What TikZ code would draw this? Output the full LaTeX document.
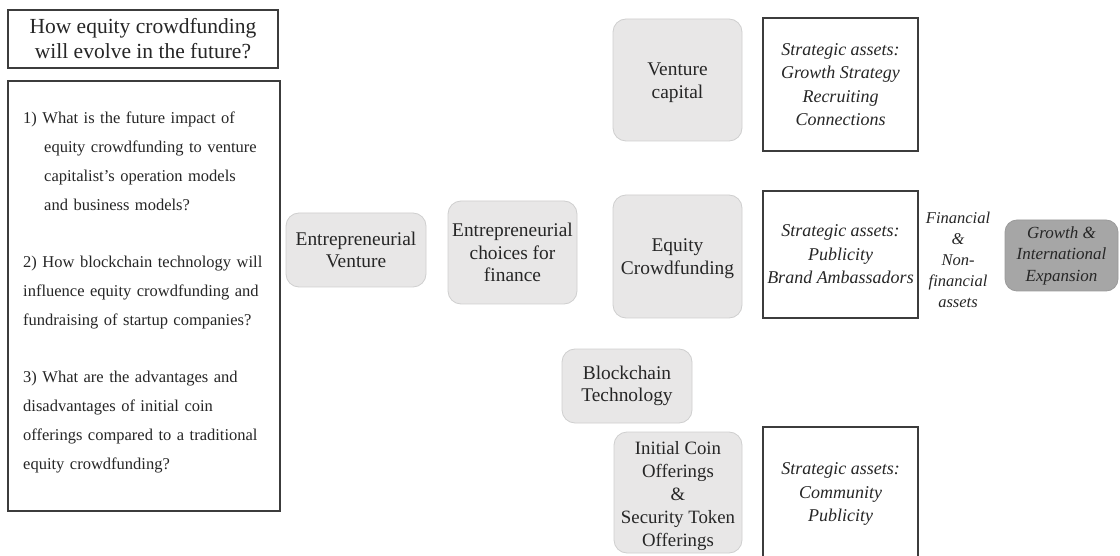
\documentclass[tikz,border=0pt]{standalone}
\usepackage{fontspec}
\setmainfont{Liberation Serif}
\definecolor{ink}{HTML}{262626}
\definecolor{boxfill}{HTML}{E8E7E7}
\definecolor{boxedge}{HTML}{CFCFCF}
\definecolor{frameedge}{HTML}{3C3C3C}
\definecolor{goalfill}{HTML}{A6A6A6}
\definecolor{goaledge}{HTML}{9A9A9A}
\begin{document}
\begin{tikzpicture}[x=1pt,y=-1pt,
  softbox/.style={draw=boxedge, fill=boxfill, rounded corners=13pt, line width=0.8pt,
    align=center, text=ink, inner sep=1pt, font=\fontsize{19.4}{22.6}\selectfont},
  softtext/.style={align=center, text=ink, inner sep=0pt, font=\fontsize{19.4}{22.6}\selectfont},
  framebox/.style={draw=frameedge, line width=1.4pt, align=center, text=ink, inner sep=2pt},
  assets/.style={framebox, font=\itshape\fontsize{18}{23.5}\selectfont},
  goalbox/.style={draw=goaledge, fill=goalfill, rounded corners=12pt, line width=0.8pt,
    align=center, text=ink, inner sep=2pt, font=\itshape\fontsize{17}{21.5}\selectfont}]
\useasboundingbox (0,0) rectangle (1120,556);
\fill[white] (0,0) rectangle (1120,556);

% research question panel
\node[framebox, minimum width=270pt, minimum height=58pt,
      font=\fontsize{21.5}{25}\selectfont] (title) at (143,39)
  {How equity crowdfunding\\will evolve in the future?};
\node[framebox, minimum width=272pt, minimum height=430pt] (qframe) at (144,296) {};
\node[anchor=north west, inner sep=0pt, text width=240pt, align=left, text=ink,
      font=\fontsize{16.5}{29}\selectfont] (questions) at (23,112) {%
  \makebox[240pt][s]{1) What is the future impact of}\\
  \hspace*{21pt}\makebox[219pt][s]{equity crowdfunding to venture}\\
  \hspace*{21pt}\makebox[219pt][s]{capitalist’s operation models}\\
  \hspace*{21pt}and business models?\\[28pt]
  \makebox[240pt][s]{2) How blockchain technology will}\\
  \makebox[240pt][s]{influence equity crowdfunding and}\\
  fundraising of startup companies?\\[28pt]
  \makebox[240pt][s]{3) What are the advantages and}\\
  \makebox[240pt][s]{disadvantages of initial coin}\\
  \makebox[240pt][s]{offerings compared to a traditional}\\
  equity crowdfunding?};

% financing routes
\node[softbox, minimum width=140pt, minimum height=74pt] (venture) at (356,250)
  {Entrepreneurial\\Venture};
\node[softbox, minimum width=129pt, minimum height=103pt] (choices) at (512.5,252.5)
  {Entrepreneurial\\choices for\\finance};
\node[softbox, minimum width=129pt, minimum height=122pt] (vc) at (677.5,80) {};
\node[softtext] (vclabel) at ([yshift=-3pt]vc.center) {Venture\\capital};
\node[softbox, minimum width=129pt, minimum height=123pt] (ecf) at (677.5,256.5) {};
\node[softtext] (ecflabel) at ([yshift=-2pt]ecf.center) {Equity\\Crowdfunding};
\node[softbox, minimum width=130pt, minimum height=74pt] (chain) at (627,386)
  {Blockchain\\Technology};
\node[softbox, minimum width=128pt, minimum height=121pt] (ico) at (678,492.5) {};
\node[softtext, font=\fontsize{18.8}{23.2}\selectfont] (icolabel) at ([yshift=-3.5pt]ico.center)
  {Initial Coin\\Offerings\\\&\\Security Token\\Offerings};

% strategic assets
\node[assets, minimum width=155pt, minimum height=133pt] (assetvc) at (840.5,84.5)
  {Strategic assets:\\Growth Strategy\\Recruiting\\Connections};
\node[assets, minimum width=155pt, minimum height=127pt] (assetecf) at (840.5,254.5)
  {Strategic assets:\\Publicity\\Brand Ambassadors};
\node[assets, minimum width=155pt, minimum height=134pt] (assetico) at (840.5,494)
  {Strategic assets:\\Community\\Publicity};

% outcome
\node[align=center, text=ink, inner sep=0pt, font=\itshape\fontsize{16.5}{21}\selectfont]
  (assetsum) at (958,259.5) {Financial\\\&\\Non-\\financial\\assets};
\node[goalbox, minimum width=113pt, minimum height=71pt] (growth) at (1061.5,255.5)
  {Growth \&\\International\\Expansion};
\end{tikzpicture}
\end{document}
